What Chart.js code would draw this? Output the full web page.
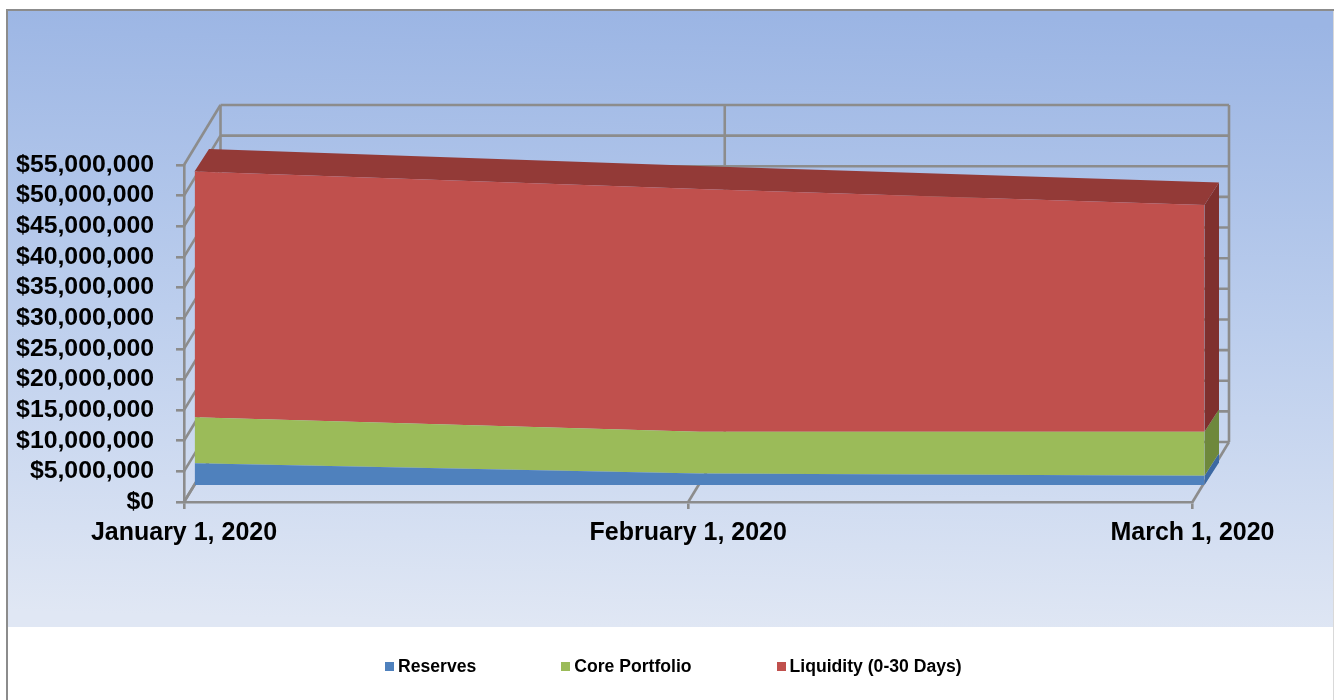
<!DOCTYPE html>
<html>
<head>
<meta charset="utf-8">
<title>Portfolio balances</title>
<script src="https://cdn.jsdelivr.net/npm/chart.js@4"></script>
<style>
    html, body { margin: 0; padding: 0; background: #fff; overflow: hidden; }
    #wrap { position: relative; width: 1334px; height: 700px; }
    canvas { display: block; }
    #legend {
        position: absolute; left: 385px; top: 656px; height: 20px;
        display: flex; align-items: center;
        font: bold 17.6px "Liberation Sans", Arial, sans-serif; color: #000;
    }
    #legend span.item { display: flex; align-items: center; margin-right: 85px; white-space: nowrap; }
    #legend i { display: block; width: 9px; height: 9px; margin-right: 4px; }
</style>
</head>
<body>
<div id="wrap">
    <canvas id="balanceChart" width="1334" height="700"></canvas>
    <div id="legend"></div>
</div>
<script>
// Chart data
const categories = ['January 1, 2020', 'February 1, 2020', 'March 1, 2020'];
const reserves = [3550000, 1880000, 1520000];
const corePortfolio = [7500000, 6820000, 7180000];
const liquidity = [40100000, 39600000, 37000000];
const seriesNames = ['Reserves', 'Core Portfolio', 'Liquidity (0-30 Days)'];
const seriesColors = ['#4F81BD', '#9BBB59', '#C0504D'];
const sideColors = ['#3C69A3', '#6E883C', '#7F302E'];
const topColor = '#933A37';
const yMax = 55000000;
const yStep = 5000000;

const gridColor = '#8C8C8C';
const gridWidth = 2.6;
const fontFamily = '"Liberation Sans", Arial, sans-serif';

// 3D look: wall depth of the frame, and where the slab sits inside it
const wall = { dx: 36.5, dy: -60 };
const slabFront = { left: 194.5, width: 1010, dy: -17 };
const slabDepth = { dx: 14.5, dy: -22.5 };

function slabX(chart, x) {
    const a = chart.chartArea;
    return slabFront.left + (x - a.left) * slabFront.width / (a.right - a.left);
}

function line(ctx, x1, y1, x2, y2) {
    ctx.beginPath();
    ctx.moveTo(x1, y1);
    ctx.lineTo(x2, y2);
    ctx.stroke();
}

function poly(ctx, pts, color) {
    ctx.fillStyle = color;
    ctx.beginPath();
    pts.forEach((p, i) => i ? ctx.lineTo(p[0], p[1]) : ctx.moveTo(p[0], p[1]));
    ctx.closePath();
    ctx.fill();
}

const frame3d = {
    id: 'frame3d',
    beforeDraw(chart) {
        const { ctx, scales: { x, y } } = chart;
        ctx.save();

        // panel behind the plot
        const g = ctx.createLinearGradient(675, 10, 660, 627);
        g.addColorStop(0, '#9BB5E4');
        g.addColorStop(0.5, '#BCCEED');
        g.addColorStop(1, '#E0E7F4');
        ctx.fillStyle = g;
        ctx.fillRect(7, 10, 1327, 617);

        ctx.fillStyle = '#8C8C8C';
        ctx.fillRect(6, 9, 1328, 2);
        ctx.fillRect(6, 9, 2, 691);
        ctx.fillStyle = '#D9D9D9';
        ctx.fillRect(1333, 11, 1, 689);

        // back wall and left wall
        ctx.strokeStyle = gridColor;
        ctx.lineWidth = gridWidth;
        const x0 = x.getPixelForValue(0);
        const xN = x.getPixelForValue(categories.length - 1);
        for (let v = 0; v <= yMax; v += yStep) {
            const py = y.getPixelForValue(v);
            line(ctx, x0, py, x0 + wall.dx, py + wall.dy);
            line(ctx, x0 + wall.dx, py + wall.dy, xN + wall.dx, py + wall.dy);
        }
        categories.forEach((c, i) => {
            const px = x.getPixelForValue(i);
            const base = y.getPixelForValue(0);
            line(ctx, px, base, px + wall.dx, base + wall.dy);
            line(ctx, px + wall.dx, base + wall.dy, px + wall.dx, y.getPixelForValue(yMax) + wall.dy);
        });
        ctx.restore();
    },
    beforeDatasetsDraw(chart) {
        const { ctx } = chart;
        const n = categories.length;
        const metas = seriesNames.map((s, i) => chart.getDatasetMeta(i).data);
        const d = slabDepth;
        const front = (pt) => [slabX(chart, pt.x), pt.y + slabFront.dy];

        // right end of each band
        ctx.save();
        metas.forEach((pts, i) => {
            const t = front(pts[n - 1]);
            const bottom = i ? front(metas[i - 1][n - 1])[1] : chart.scales.y.getPixelForValue(0) + slabFront.dy;
            poly(ctx, [
                [t[0], t[1]],
                [t[0] + d.dx, t[1] + d.dy],
                [t[0] + d.dx, bottom + d.dy],
                [t[0], bottom]
            ], sideColors[i]);
        });

        // top of the uppermost band
        const top = metas[metas.length - 1].map(front);
        const back = top.map(p => [p[0] + d.dx, p[1] + d.dy]).reverse();
        poly(ctx, top.concat(back), topColor);
        ctx.restore();

        // the bands themselves sit at the front of the slab
        ctx.save();
        const a = chart.chartArea;
        const sx = slabFront.width / (a.right - a.left);
        ctx.transform(sx, 0, 0, 1, slabFront.left - a.left * sx, slabFront.dy);
    },
    afterDatasetsDraw(chart) {
        chart.ctx.restore();
    }
};

const bands = [reserves, corePortfolio, liquidity];

new Chart(document.getElementById('balanceChart').getContext('2d'), {
    type: 'line',
    plugins: [frame3d],
    data: {
        labels: categories,
        datasets: bands.map((values, i) => ({
            label: seriesNames[i],
            data: values,
            backgroundColor: seriesColors[i],
            borderWidth: 0,
            pointRadius: 0,
            tension: 0,
            clip: false,
            fill: i ? '-1' : 'origin'
        }))
    },
    options: {
        responsive: false,
        animation: false,
        layout: { padding: { left: 0, right: 141.5, top: 165, bottom: 0 } },
        plugins: {
            legend: { display: false },
            tooltip: { enabled: false }
        },
        scales: {
            x: {
                offset: false,
                afterFit(scale) { scale.height = 198; },
                grid: { drawOnChartArea: false, drawTicks: true, tickLength: 7, color: gridColor, lineWidth: gridWidth },
                border: { color: gridColor, width: gridWidth },
                ticks: {
                    color: '#000',
                    font: { family: fontFamily, size: 25, weight: 'bold' },
                    padding: 9,
                    maxRotation: 0,
                    autoSkip: false
                }
            },
            y: {
                stacked: true,
                min: 0,
                max: yMax,
                afterFit(scale) { scale.width = 184; },
                grid: { drawOnChartArea: false, drawTicks: true, tickLength: 8, color: gridColor, lineWidth: gridWidth },
                border: { color: gridColor, width: gridWidth },
                ticks: {
                    color: '#000',
                    font: { family: fontFamily, size: 24.8, weight: 'bold' },
                    padding: 22,
                    stepSize: yStep,
                    autoSkip: false,
                    callback: v => '$' + Number(v).toLocaleString('en-US')
                }
            }
        }
    }
});

// Legend
const legendEl = document.getElementById('legend');
seriesNames.forEach((name, i) => {
    const item = document.createElement('span');
    item.className = 'item';
    const box = document.createElement('i');
    box.style.background = seriesColors[i];
    item.appendChild(box);
    item.appendChild(document.createTextNode(name));
    legendEl.appendChild(item);
});
</script>
</body>
</html>
